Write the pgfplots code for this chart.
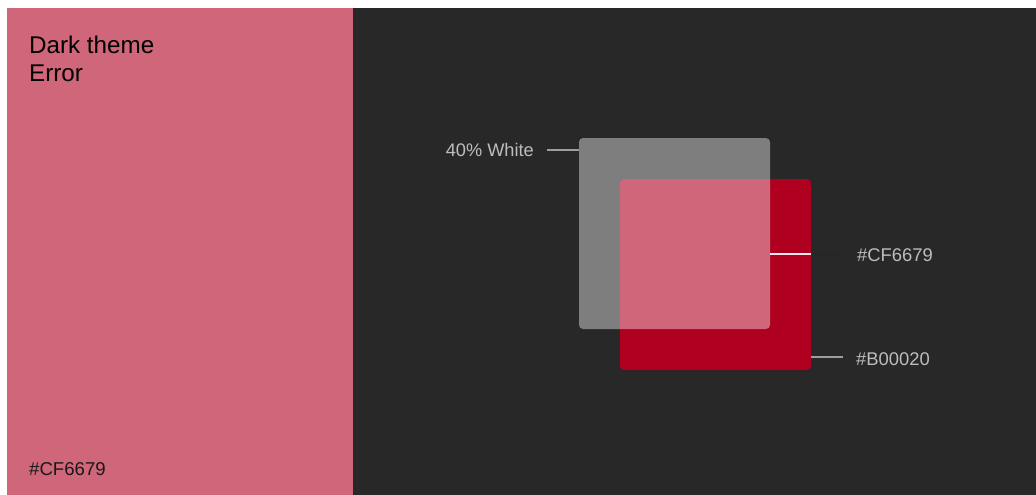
\documentclass[border=0pt]{standalone}
\usepackage{fontspec}
\setmainfont{Liberation Sans}
\usepackage{pgfplots}
\pgfplotsset{compat=1.18}
\definecolor{pinkerr}{HTML}{CF6679}
\definecolor{rederr}{HTML}{B00020}
\definecolor{darkbg}{HTML}{282828}
\definecolor{labgray}{HTML}{BDBDBD}
\definecolor{linegray}{HTML}{9E9E9E}
\begin{document}
\begin{tikzpicture}
\begin{axis}[
  scale only axis, width=1036pt, height=495pt,
  xmin=0, xmax=1036, ymin=0, ymax=495, y dir=reverse,
  axis lines=none, ticks=none, clip=false,
]
% white background
\addplot[fill=white, draw=none] coordinates {(0,0) (1036,0) (1036,495) (0,495)} -- cycle;
% pink panel
\addplot[fill=pinkerr, draw=none] coordinates {(7,8) (353,8) (353,495) (7,495)} -- cycle;
% dark panel
\addplot[fill=darkbg, draw=none] coordinates {(353,8) (1036,8) (1036,495) (353,495)} -- cycle;
% red square
\addplot[fill=rederr, draw=none, rounded corners=4pt] coordinates {(620,179) (811,179) (811,370) (620,370)} -- cycle;
% 40% white square
\addplot[fill=white, fill opacity=0.4, draw=none, rounded corners=4pt] coordinates {(579,138) (770,138) (770,329) (579,329)} -- cycle;
% leader lines
\addplot[draw=linegray, line width=1.2pt] coordinates {(547,150) (579,150)};
\addplot[draw=white!85!pinkerr, line width=1.2pt] coordinates {(770,254) (811,254)};
\addplot[draw=black!85, line width=1.2pt] coordinates {(811,254) (843,254)};
\addplot[draw=linegray, line width=1.2pt] coordinates {(811,357) (843,357)};
% texts
\node[anchor=base west, inner sep=0pt, text=black, font=\fontsize{24.2}{28}\selectfont] at (axis cs:29,53.3) {Dark theme};
\node[anchor=base west, inner sep=0pt, text=black, font=\fontsize{24.2}{28}\selectfont] at (axis cs:29,81.7) {Error};
\node[anchor=base west, inner sep=0pt, text=black!90, font=\fontsize{18.6}{22}\selectfont] at (axis cs:29,475) {\#CF6679};
\node[anchor=base east, inner sep=0pt, text=labgray, font=\fontsize{18.2}{22}\selectfont] at (axis cs:534,156) {40\% White};
\node[anchor=base west, inner sep=0pt, text=labgray, font=\fontsize{18.4}{22}\selectfont] at (axis cs:857,261.7) {\#CF6679};
\node[anchor=base west, inner sep=0pt, text=labgray, font=\fontsize{18.4}{22}\selectfont] at (axis cs:856,365.7) {\#B00020};
\end{axis}
\end{tikzpicture}
\end{document}
